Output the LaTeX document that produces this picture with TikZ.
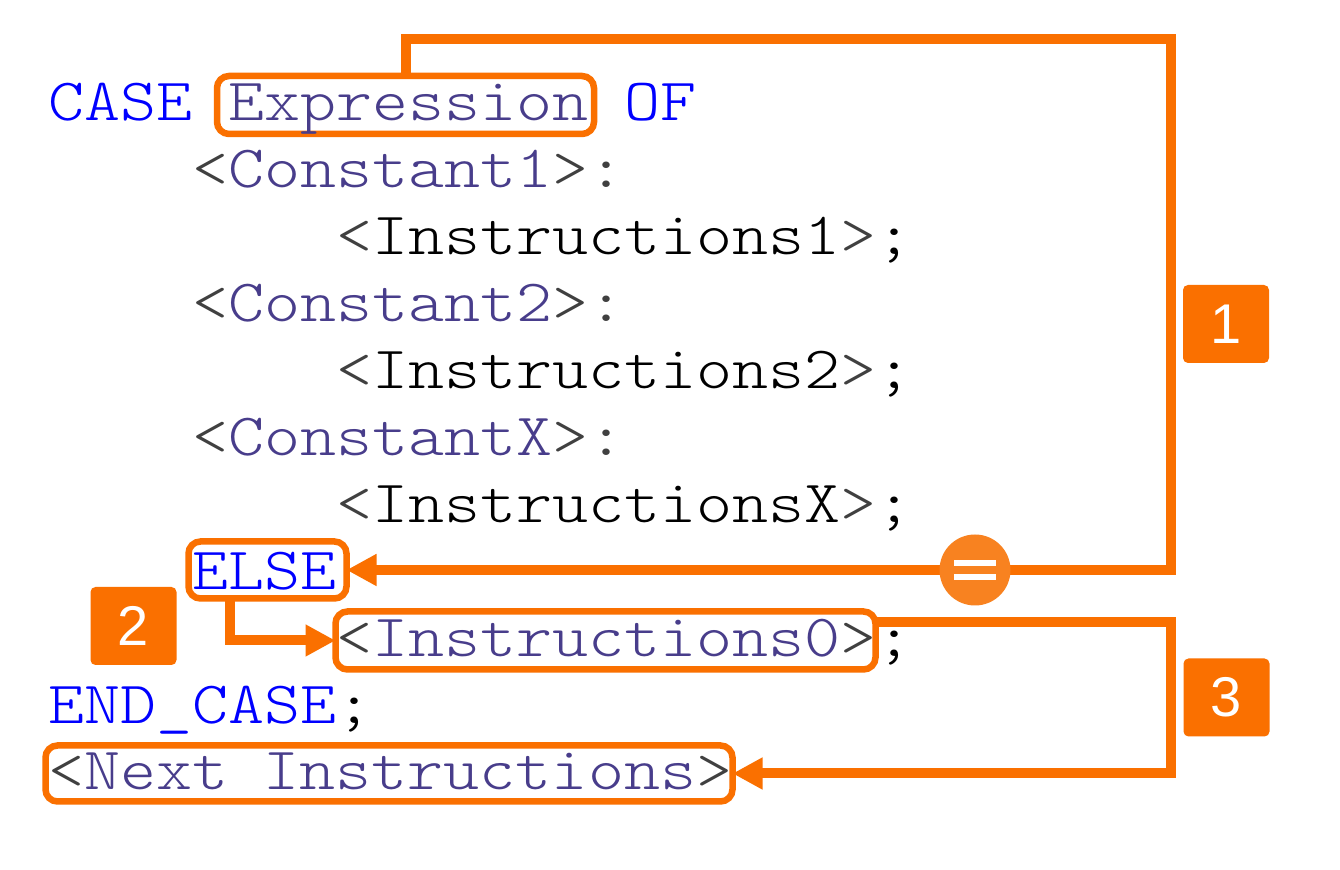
\documentclass[tikz,border=0pt]{standalone}
\usepackage{fontspec}
\newfontfamily\codefont{lmmonolt10-regular.otf}[FakeStretch=1.143]
\newfontfamily\numfont{Liberation Sans}
\usetikzlibrary{arrows.meta,calc}
\definecolor{orM}{RGB}{250,112,0}
\definecolor{orC}{RGB}{248,130,32}
\definecolor{kwc}{RGB}{0,0,255}
\definecolor{idc}{RGB}{72,61,139}
\definecolor{brc}{RGB}{64,64,64}
\newcommand\cK[1]{\textcolor{kwc}{#1}}
\newcommand\cI[1]{\textcolor{idc}{#1}}
\newcommand\cB[1]{\textcolor{brc}{#1}}
\begin{document}
\begin{tikzpicture}[x=0.5pt,y=-0.5pt,
  code/.style={anchor=base west, inner sep=0pt, outer sep=0pt, font=\codefont\fontsize{30pt}{36pt}\selectfont},
  hl/.style={draw=orM, line width=3.25pt, rounded corners=6pt, inner sep=0pt, outer sep=0pt},
  conn/.style={draw=orM, line width=5pt, -{Triangle[length=15pt,width=15pt]}},
  numbox/.style={fill=orM, rounded corners=2.5pt, text=white, font=\numfont\fontsize{28pt}{32pt}\selectfont, minimum width=43pt, minimum height=39pt, inner sep=0pt}]
\useasboundingbox[fill=white] (0,0) rectangle (1340,870);

% highlight boxes
\node[hl, minimum width=188.5pt, minimum height=29pt] (expr) at (405.5,105) {};
\node[hl, minimum width=79pt, minimum height=28.5pt] (else) at (267.5,570) {};
\node[hl, minimum width=270pt, minimum height=29pt] (i0) at (605.5,640.5) {};
\node[hl, minimum width=343.5pt, minimum height=28pt] (next) at (389,773.5) {};

% connectors
\coordinate (r1) at (1171,39);
\draw[conn] (expr.north) |- (r1) |- (else.east);
\node[circle, fill=orC, minimum size=35.5pt, inner sep=0pt] (eq) at (975,570) {};
\fill[white] ($(eq.center)+(-21,-10)$) rectangle ($(eq.center)+(21,-4)$);
\fill[white] ($(eq.center)+(-21,4)$) rectangle ($(eq.center)+(21,10)$);

\coordinate (e2) at ($(else.south west)+(41.5,0)$);
\draw[conn] (e2) |- (i0.west);

\coordinate (i0e) at ($(i0.east)+(0,-18.5)$);
\coordinate (r3) at (1171,622);
\draw[conn] (i0e) -- (r3) |- (next.east);

% number labels
\node[numbox] (n1) at (1226,324) {1};
\node[numbox] (n2) at (133.5,626) {2};
\node[numbox] (n3) at (1226.5,697.5) {3};

% code lines
\node[code] (l1) at (48,121) {\cK{CASE} \cI{Expression} \cK{OF}};
\node[code] (l2) at (192,187.9) {\cB{<}\cI{Constant1}\cB{>:}};
\node[code] (l3) at (336,254.8) {\cB{<}Instructions1\cB{>};};
\node[code] (l4) at (192,321.7) {\cB{<}\cI{Constant2}\cB{>:}};
\node[code] (l5) at (336,388.6) {\cB{<}Instructions2\cB{>};};
\node[code] (l6) at (192,455.5) {\cB{<}\cI{ConstantX}\cB{>:}};
\node[code] (l7) at (336,522.4) {\cB{<}InstructionsX\cB{>};};
\node[code] (l8) at (192,589.3) {\cK{ELSE}};
\node[code] (l9) at (336,656.2) {\cB{<}\cI{Instructions0}\cB{>};};
\node[code] (l10) at (48,723.1) {\cK{END\_CASE};};
\node[code] (l11) at (48,790) {\cB{<}\cI{Next Instructions}\cB{>}};
\end{tikzpicture}
\end{document}
